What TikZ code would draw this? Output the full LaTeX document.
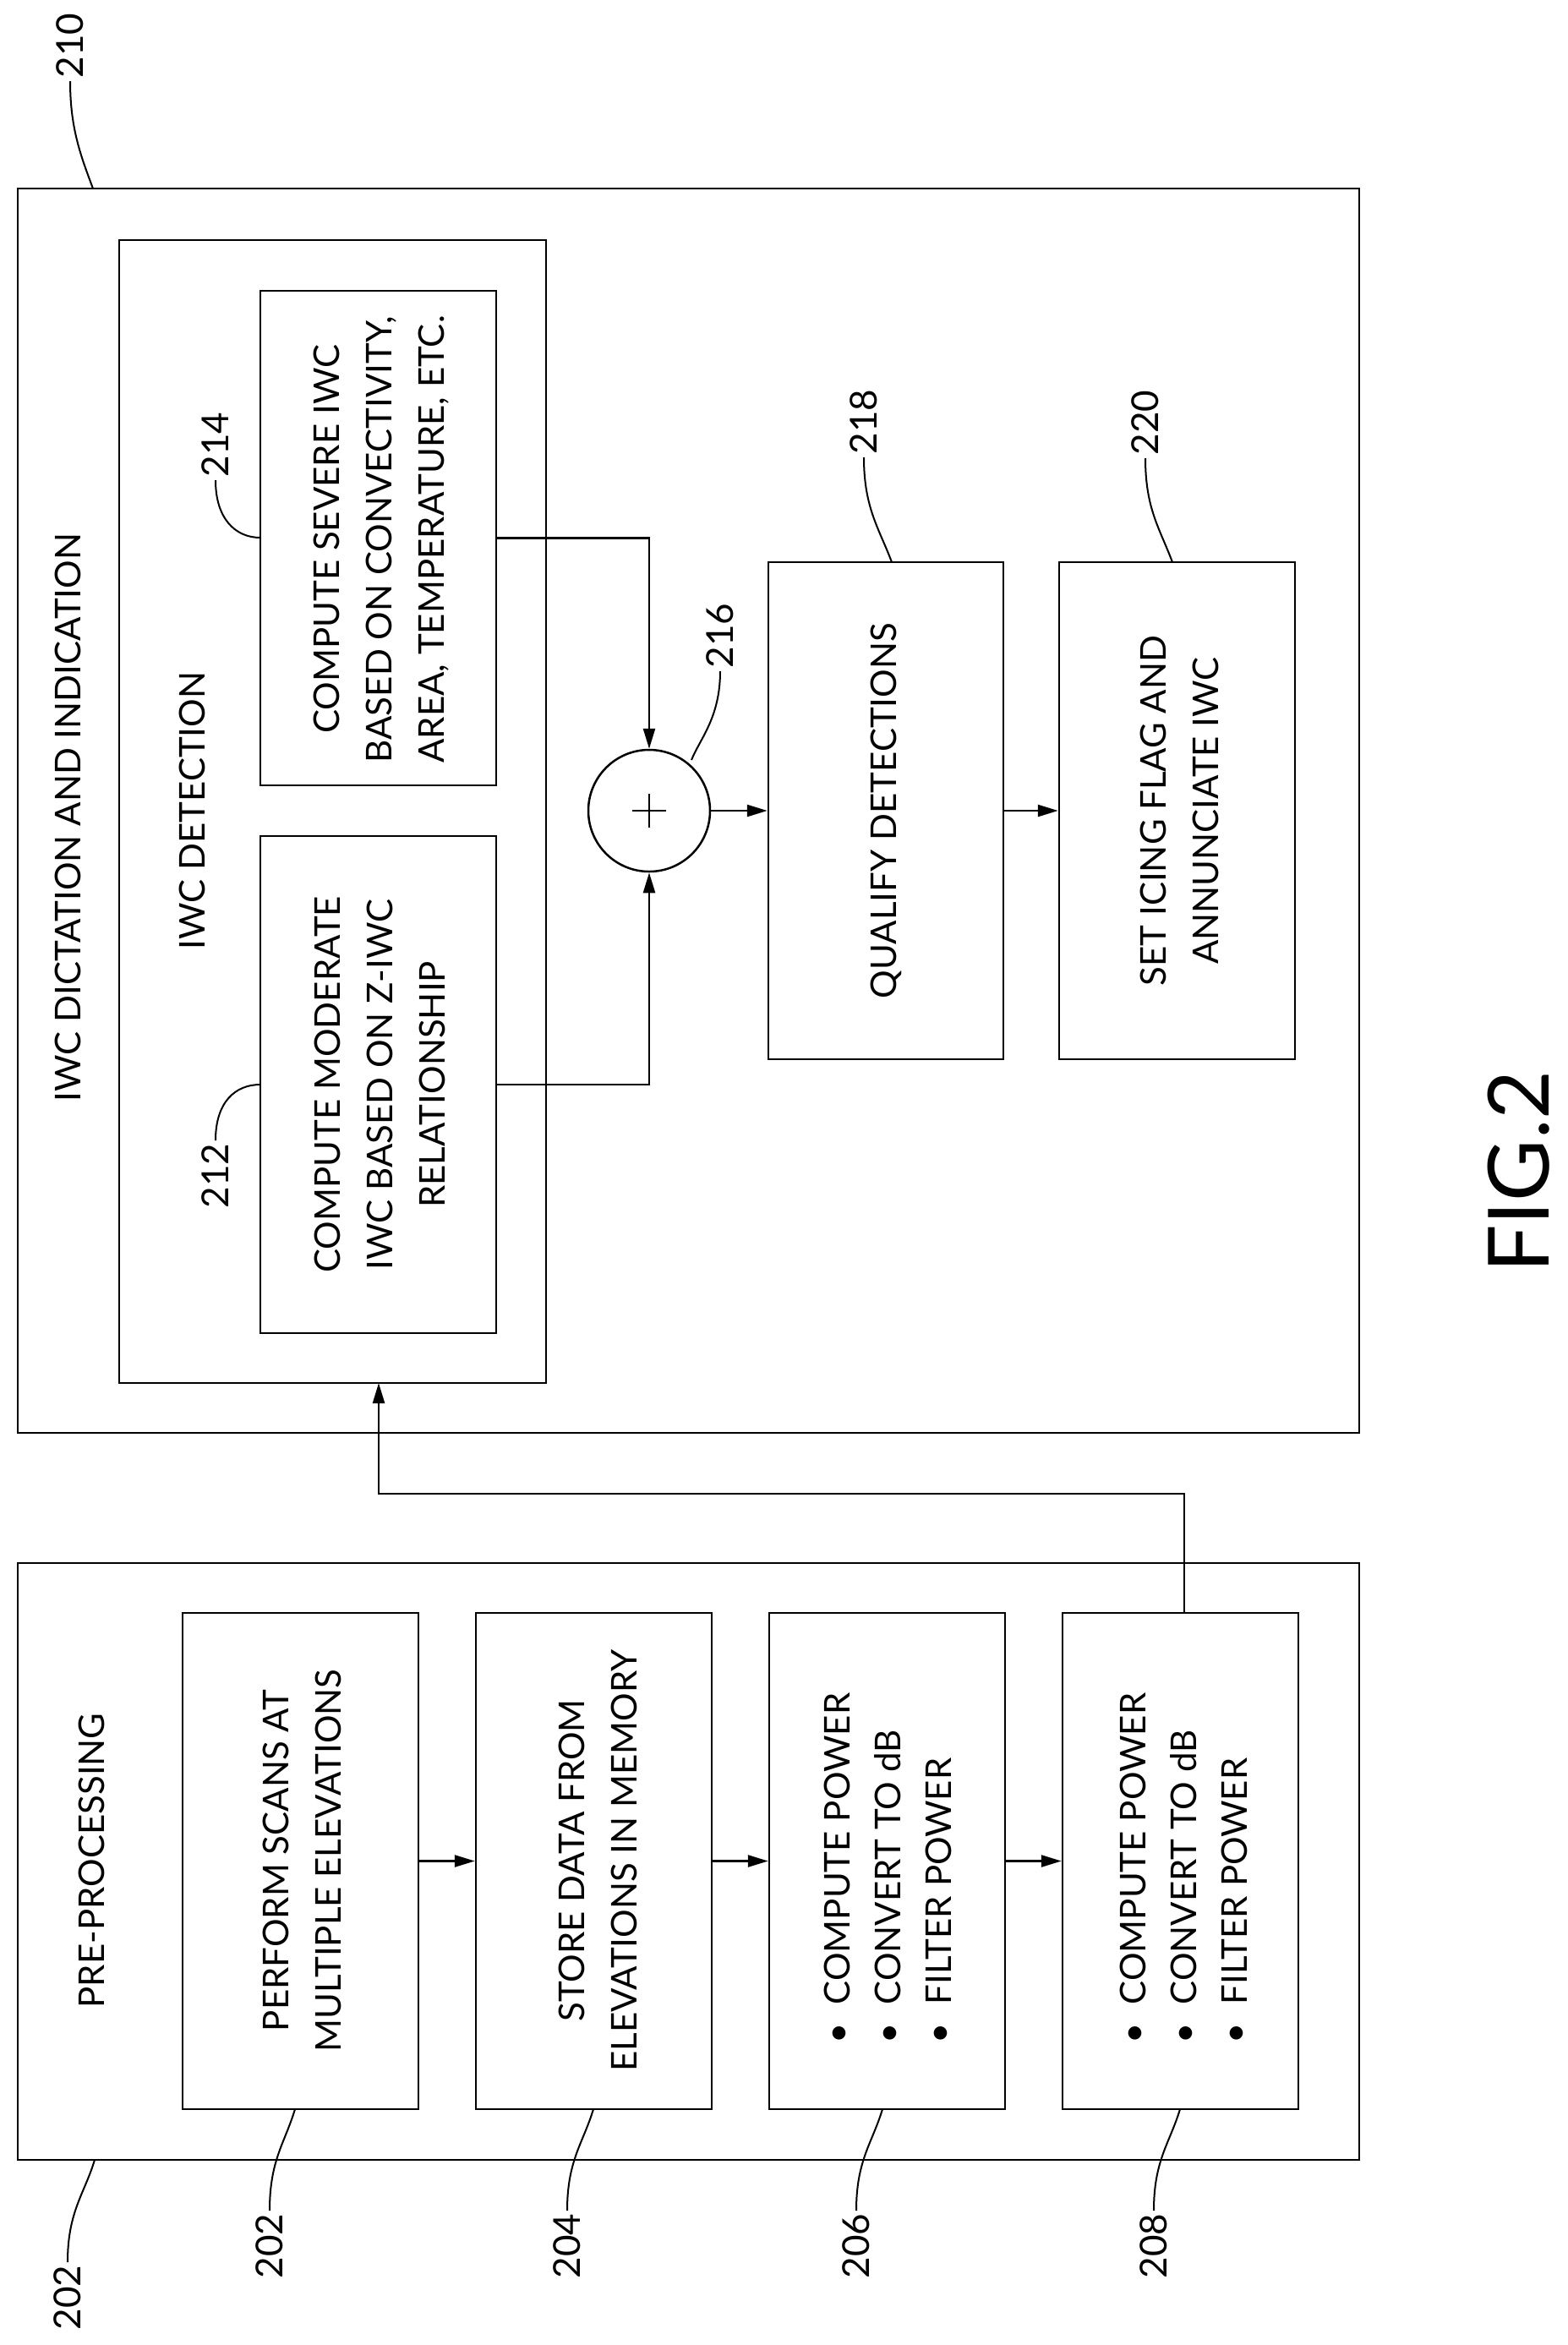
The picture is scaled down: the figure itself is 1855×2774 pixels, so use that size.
\documentclass[tikz,border=0pt]{standalone}
\usepackage{fontspec}
\setmainfont{Lato}
\usetikzlibrary{arrows.meta}
\begin{document}
\begin{tikzpicture}[x=1pt,y=-1pt,
  box/.style={draw,line width=2.5pt,inner sep=0pt},
  txt/.style={rotate=90,align=center,font=\fontsize{42}{62}\selectfont},
  lst/.style={rotate=90,align=left,font=\fontsize{42}{60}\selectfont},
  lab/.style={rotate=90,font=\fontsize{44}{50}\selectfont},
  arr/.style={line width=2.5pt,-{Triangle[length=24pt,width=14pt]}},
  lead/.style={line width=2pt}]
\useasboundingbox (0,0) rectangle (1855,2774);
% boxes
\node[box,minimum width=1587pt,minimum height=1472pt] (o210) at (814.5,959) {};
\node[box,minimum width=505pt,minimum height=1352pt] (inner) at (393.5,960) {};
\node[box,minimum width=279pt,minimum height=585pt] (b214) at (447.5,636.5) {};
\node[box,minimum width=279pt,minimum height=588pt] (b212) at (447.5,1283) {};
\node[box,circle,minimum size=144pt] (c216) at (768,959) {};
\node[box,minimum width=278pt,minimum height=588pt] (b218) at (1048,959) {};
\node[box,minimum width=279pt,minimum height=588pt] (b220) at (1392.5,959) {};
\node[box,minimum width=1587pt,minimum height=706pt] (pre) at (814.5,2202) {};
\node[box,minimum width=279pt,minimum height=587pt] (b202) at (355.5,2201.5) {};
\node[box,minimum width=279pt,minimum height=587pt] (b204) at (702.5,2201.5) {};
\node[box,minimum width=279pt,minimum height=587pt] (b206) at (1049.5,2201.5) {};
\node[box,minimum width=279pt,minimum height=587pt] (b208) at (1396.5,2201.5) {};
% plus sign
\draw[line width=2.5pt] ([xshift=-20pt]c216.center) -- ([xshift=20pt]c216.center)
  ([yshift=-20pt]c216.center) -- ([yshift=20pt]c216.center);
% texts
\node[txt] (t210) at (80,967) {IWC DICTATION AND INDICATION};
\node[txt] (tdet) at (227,959) {IWC DETECTION};
\node[txt] (t214) at (451,638) {COMPUTE SEVERE IWC\\BASED ON CONVECTIVITY,\\AREA, TEMPERATURE, ETC.};
\node[txt] (t212) at (449,1283) {COMPUTE MODERATE\\IWC BASED ON Z-IWC\\RELATIONSHIP};
\node[txt] (t218) at (1048,959) {QUALIFY DETECTIONS};
\node[txt] (t220) at (1395,959) {SET ICING FLAG AND\\ANNUNCIATE IWC};
\node[txt] (tpre) at (108,2201) {PRE-PROCESSING};
\node[txt] (t202) at (357,2201) {PERFORM SCANS AT\\MULTIPLE ELEVATIONS};
\node[txt] (t204) at (707,2201) {STORE DATA FROM\\ELEVATIONS IN MEMORY};
\node[lst] (t206) at (1050,2210) {\textbullet\ \ COMPUTE POWER\\\textbullet\ \ CONVERT TO dB\\\textbullet\ \ FILTER POWER};
\node[lst] (t208) at (1400,2210) {\textbullet\ \ COMPUTE POWER\\\textbullet\ \ CONVERT TO dB\\\textbullet\ \ FILTER POWER};
\node[rotate=90,font=\fontsize{100}{110}\selectfont] (fig) at (1797,1386) {FIG.2};
% connectors
\draw[arr] (b214.east) -| (c216.north);
\draw[arr] (b212.east) -| (c216.south);
\draw[arr] (c216.east) -- (b218.west);
\draw[arr] (b218.east) -- (b220.west);
\draw[arr] (b202.east) -- (b204.west);
\draw[arr] (b204.east) -- (b206.west);
\draw[arr] (b206.east) -- (b208.west);
\coordinate (up) at (1401,1767);
\coordinate (tip) at (448,1636);
\draw[arr] (b208.north -| up) -- (up) -| (tip);
% labels
\node[lab,anchor=west] (l210) at (83,96) {210};
\node[lab,anchor=west] (l214) at (255,568) {214};
\node[lab,anchor=west] (l216) at (852,794) {216};
\node[lab,anchor=west] (l218) at (1022,541) {218};
\node[lab,anchor=west] (l220) at (1355,542) {220};
\node[lab,anchor=east] (l212) at (255,1349) {212};
\node[lab,anchor=east] (l202o) at (80,2676) {202};
\node[lab,anchor=east] (l202) at (319,2615) {202};
\node[lab,anchor=east] (l204) at (671,2615) {204};
\node[lab,anchor=east] (l206) at (1013,2615) {206};
\node[lab,anchor=east] (l208) at (1365,2615) {208};
\coordinate (a210) at (110,223);
\coordinate (a214) at (308,636);
\coordinate (a216) at (818,899);
\coordinate (a218) at (1055,665);
\coordinate (a220) at (1387,665);
\coordinate (a212) at (308,1283);
\coordinate (a202o) at (112,2555);
\coordinate (a202) at (349,2495);
\coordinate (a204) at (702,2495);
\coordinate (a206) at (1044,2495);
\coordinate (a208) at (1396,2495);
\draw[lead] (l210.west) .. controls +(0,55) and +(-15,-40) .. (a210);
\draw[lead] (l214.west) .. controls +(0,45) and +(-30,0) .. (a214);
\draw[lead] (l216.west) .. controls +(0,55) and +(10,-25) .. (a216);
\draw[lead] (l218.west) .. controls +(0,60) and +(-15,-40) .. (a218);
\draw[lead] (l220.west) .. controls +(0,60) and +(-15,-40) .. (a220);
\draw[lead] (l212.east) .. controls +(0,-45) and +(-30,0) .. (a212);
\draw[lead] (l202o.east) .. controls +(0,-60) and +(-12,40) .. (a202o);
\foreach \n in {202,204,206,208}{
  \draw[lead] (l\n.east) .. controls +(0,-60) and +(-12,40) .. (a\n);
}
\end{tikzpicture}
\end{document}
